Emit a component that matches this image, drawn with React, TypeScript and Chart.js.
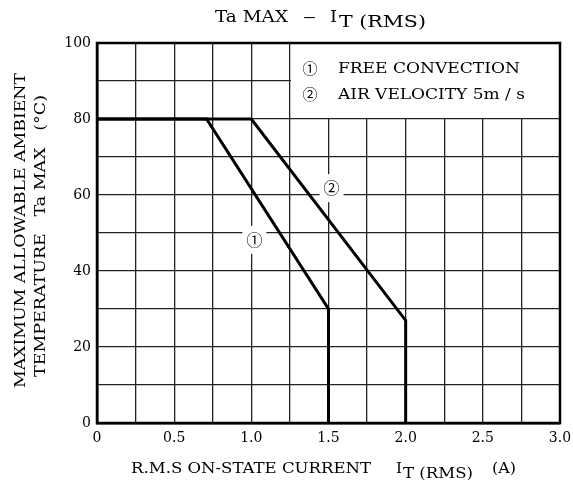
import React, { useEffect, useRef } from 'react';
import { Chart, registerables } from 'chart.js';

Chart.register(...registerables);

// ---- data ----
const xRange = [0, 3];
const yRange = [0, 100];
const xTickValues = [0, 0.5, 1.0, 1.5, 2.0, 2.5, 3.0];
const xTickLabels = ['0', '0.5', '1.0', '1.5', '2.0', '2.5', '3.0'];
const yTickValues = [0, 20, 40, 60, 80, 100];
const yTickLabels = ['0', '20', '40', '60', '80', '100'];

const curve1X = [0, 0.71, 1.5, 1.5];
const curve1Y = [80, 80, 30, 0];
const curve2X = [0, 1.0, 2.0, 2.0];
const curve2Y = [80, 80, 27, 0];

const curveMarks = ['①', '②'];
const curveMarkX = [1.02, 1.52];
const curveMarkY = [48.2, 61.8];

const legendTexts = ['FREE CONVECTION', 'AIR VELOCITY 5m / s'];
const legendBoxX = [1.25, 3.0];
const legendBoxY = [80, 100];

const titleParts = ['Ta MAX', '–', 'I', 'T (RMS)'];
const xTitleParts = ['R.M.S ON-STATE CURRENT', 'I', 'T (RMS)', '(A)'];
const yTitleLines = ['MAXIMUM ALLOWABLE AMBIENT', 'TEMPERATURE   Ta MAX   (°C)'];

const SERIF = '"DejaVu Serif", serif';
const CIRC = '"Noto Sans CJK JP", "DejaVu Sans", sans-serif';

// draw text stretched horizontally to a given width (left aligned at x)
function drawFit(ctx: CanvasRenderingContext2D, t: string, x: number, y: number, font: string, width: number) {
  ctx.font = font;
  const w = ctx.measureText(t).width || 1;
  ctx.save();
  ctx.translate(x, y);
  ctx.scale(width / w, 1);
  ctx.textAlign = 'left';
  ctx.textBaseline = 'alphabetic';
  ctx.fillText(t, 0, 0);
  ctx.restore();
}

const decorPlugin = {
  id: 'decor',
  beforeDatasetsDraw(chart: any) {
    const ctx: CanvasRenderingContext2D = chart.ctx;
    const xs = chart.scales.x;
    const ys = chart.scales.y;
    ctx.save();
    const lx0 = xs.getPixelForValue(legendBoxX[0]);
    const lx1 = xs.getPixelForValue(legendBoxX[1]);
    const ly0 = ys.getPixelForValue(legendBoxY[1]);
    const ly1 = ys.getPixelForValue(legendBoxY[0]);
    ctx.fillStyle = '#fff';
    ctx.fillRect(lx0 + 1, ly0 + 1, lx1 - lx0 - 2, ly1 - ly0 - 2);
    curveMarks.forEach((_, i) => {
      const px = xs.getPixelForValue(curveMarkX[i]);
      const py = ys.getPixelForValue(curveMarkY[i]);
      ctx.fillRect(px - 12, py - 14, 24, 28);
    });
    ctx.restore();
  },
  afterDatasetsDraw(chart: any) {
    const ctx: CanvasRenderingContext2D = chart.ctx;
    const xs = chart.scales.x;
    const ys = chart.scales.y;
    const a = chart.chartArea;
    ctx.save();
    ctx.strokeStyle = '#000';
    ctx.lineWidth = 2.5;
    ctx.strokeRect(a.left, a.top, a.right - a.left, a.bottom - a.top);
    ctx.fillStyle = '#000';

    // curve marks
    ctx.font = `16px ${CIRC}`;
    ctx.textAlign = 'center';
    ctx.textBaseline = 'middle';
    curveMarks.forEach((m, i) => {
      ctx.fillText(m, xs.getPixelForValue(curveMarkX[i]), ys.getPixelForValue(curveMarkY[i]));
    });

    // legend
    const lx0 = xs.getPixelForValue(legendBoxX[0]);
    const legendWidths = [182, 187];
    legendTexts.forEach((t, i) => {
      const base = 73 + i * 26;
      ctx.font = `15px ${CIRC}`;
      ctx.textAlign = 'center';
      ctx.textBaseline = 'alphabetic';
      ctx.fillText(curveMarks[i], lx0 + 20, base + 1);
      drawFit(ctx, t, lx0 + 48, base, `15px ${SERIF}`, legendWidths[i]);
    });

    // title
    drawFit(ctx, titleParts[0], 215, 22, `17px ${SERIF}`, 73);
    drawFit(ctx, titleParts[1], 303, 22, `17px ${SERIF}`, 13);
    drawFit(ctx, titleParts[2], 330, 22, `17px ${SERIF}`, 7);
    drawFit(ctx, titleParts[3], 339, 27, `16px ${SERIF}`, 87);

    // x axis title
    drawFit(ctx, xTitleParts[0], 131, 473, `15px ${SERIF}`, 240);
    drawFit(ctx, xTitleParts[1], 396, 473, `15px ${SERIF}`, 6);
    drawFit(ctx, xTitleParts[2], 403, 478, `15px ${SERIF}`, 70);
    drawFit(ctx, xTitleParts[3], 492, 473, `15px ${SERIF}`, 24);

    // y axis title (rotated)
    ctx.save();
    ctx.rotate(-Math.PI / 2);
    drawFit(ctx, yTitleLines[0], -388, 25, `15px ${SERIF}`, 315);
    drawFit(ctx, yTitleLines[1], -377, 45, `15px ${SERIF}`, 282);
    ctx.restore();
    ctx.restore();
  },
};

export default function App() {
  const ref = useRef<HTMLCanvasElement | null>(null);
  useEffect(() => {
    if (!ref.current) return;
    const mk = (xs: number[], ys: number[]) => xs.map((x, i) => ({ x, y: ys[i] }));
    const chart = new Chart(ref.current, {
      type: 'line',
      data: {
        datasets: [
          { data: mk(curve1X, curve1Y), borderColor: '#000', borderWidth: 3, pointRadius: 0, tension: 0, fill: false },
          { data: mk(curve2X, curve2Y), borderColor: '#000', borderWidth: 3, pointRadius: 0, tension: 0, fill: false },
        ],
      },
      options: {
        responsive: false,
        animation: false,
        events: [],
        layout: { padding: { top: 43, right: 13, left: 0, bottom: 0 } },
        plugins: { legend: { display: false }, tooltip: { enabled: false }, title: { display: false } },
        scales: {
          x: {
            type: 'linear',
            min: xRange[0],
            max: xRange[1],
            afterFit: (s: any) => { s.height = 68; s.paddingLeft = 0; s.paddingRight = 0; },
            ticks: {
              stepSize: 0.25,
              autoSkip: false,
              maxRotation: 0,
              padding: 7,
              color: '#000',
              font: { family: SERIF, size: 14 },
              callback: (v: any) => {
                const i = xTickValues.findIndex((t) => Math.abs(t - Number(v)) < 1e-6);
                return i >= 0 ? xTickLabels[i] : '';
              },
            },
            grid: { color: '#222', lineWidth: 1.3, drawTicks: false },
            border: { display: true, color: '#000', width: 2.5 },
          },
          y: {
            type: 'linear',
            min: yRange[0],
            max: yRange[1],
            afterFit: (s: any) => { s.width = 97; s.paddingTop = 0; s.paddingBottom = 0; },
            ticks: {
              stepSize: 10,
              autoSkip: false,
              padding: 6,
              color: '#000',
              font: { family: SERIF, size: 14 },
              callback: (v: any) => {
                const i = yTickValues.findIndex((t) => Math.abs(t - Number(v)) < 1e-6);
                return i >= 0 ? yTickLabels[i] : '';
              },
            },
            grid: { color: '#222', lineWidth: 1.3, drawTicks: false },
            border: { display: true, color: '#000', width: 2.5 },
          },
        },
      },
      plugins: [decorPlugin],
    } as any);
    return () => chart.destroy();
  }, []);
  return (
    <div style={{ position: 'fixed', left: 0, top: 0, width: 573, height: 491, background: '#fff' }}>
      <canvas ref={ref} width={573} height={491} style={{ display: 'block', width: 573, height: 491 }} />
    </div>
  );
}
